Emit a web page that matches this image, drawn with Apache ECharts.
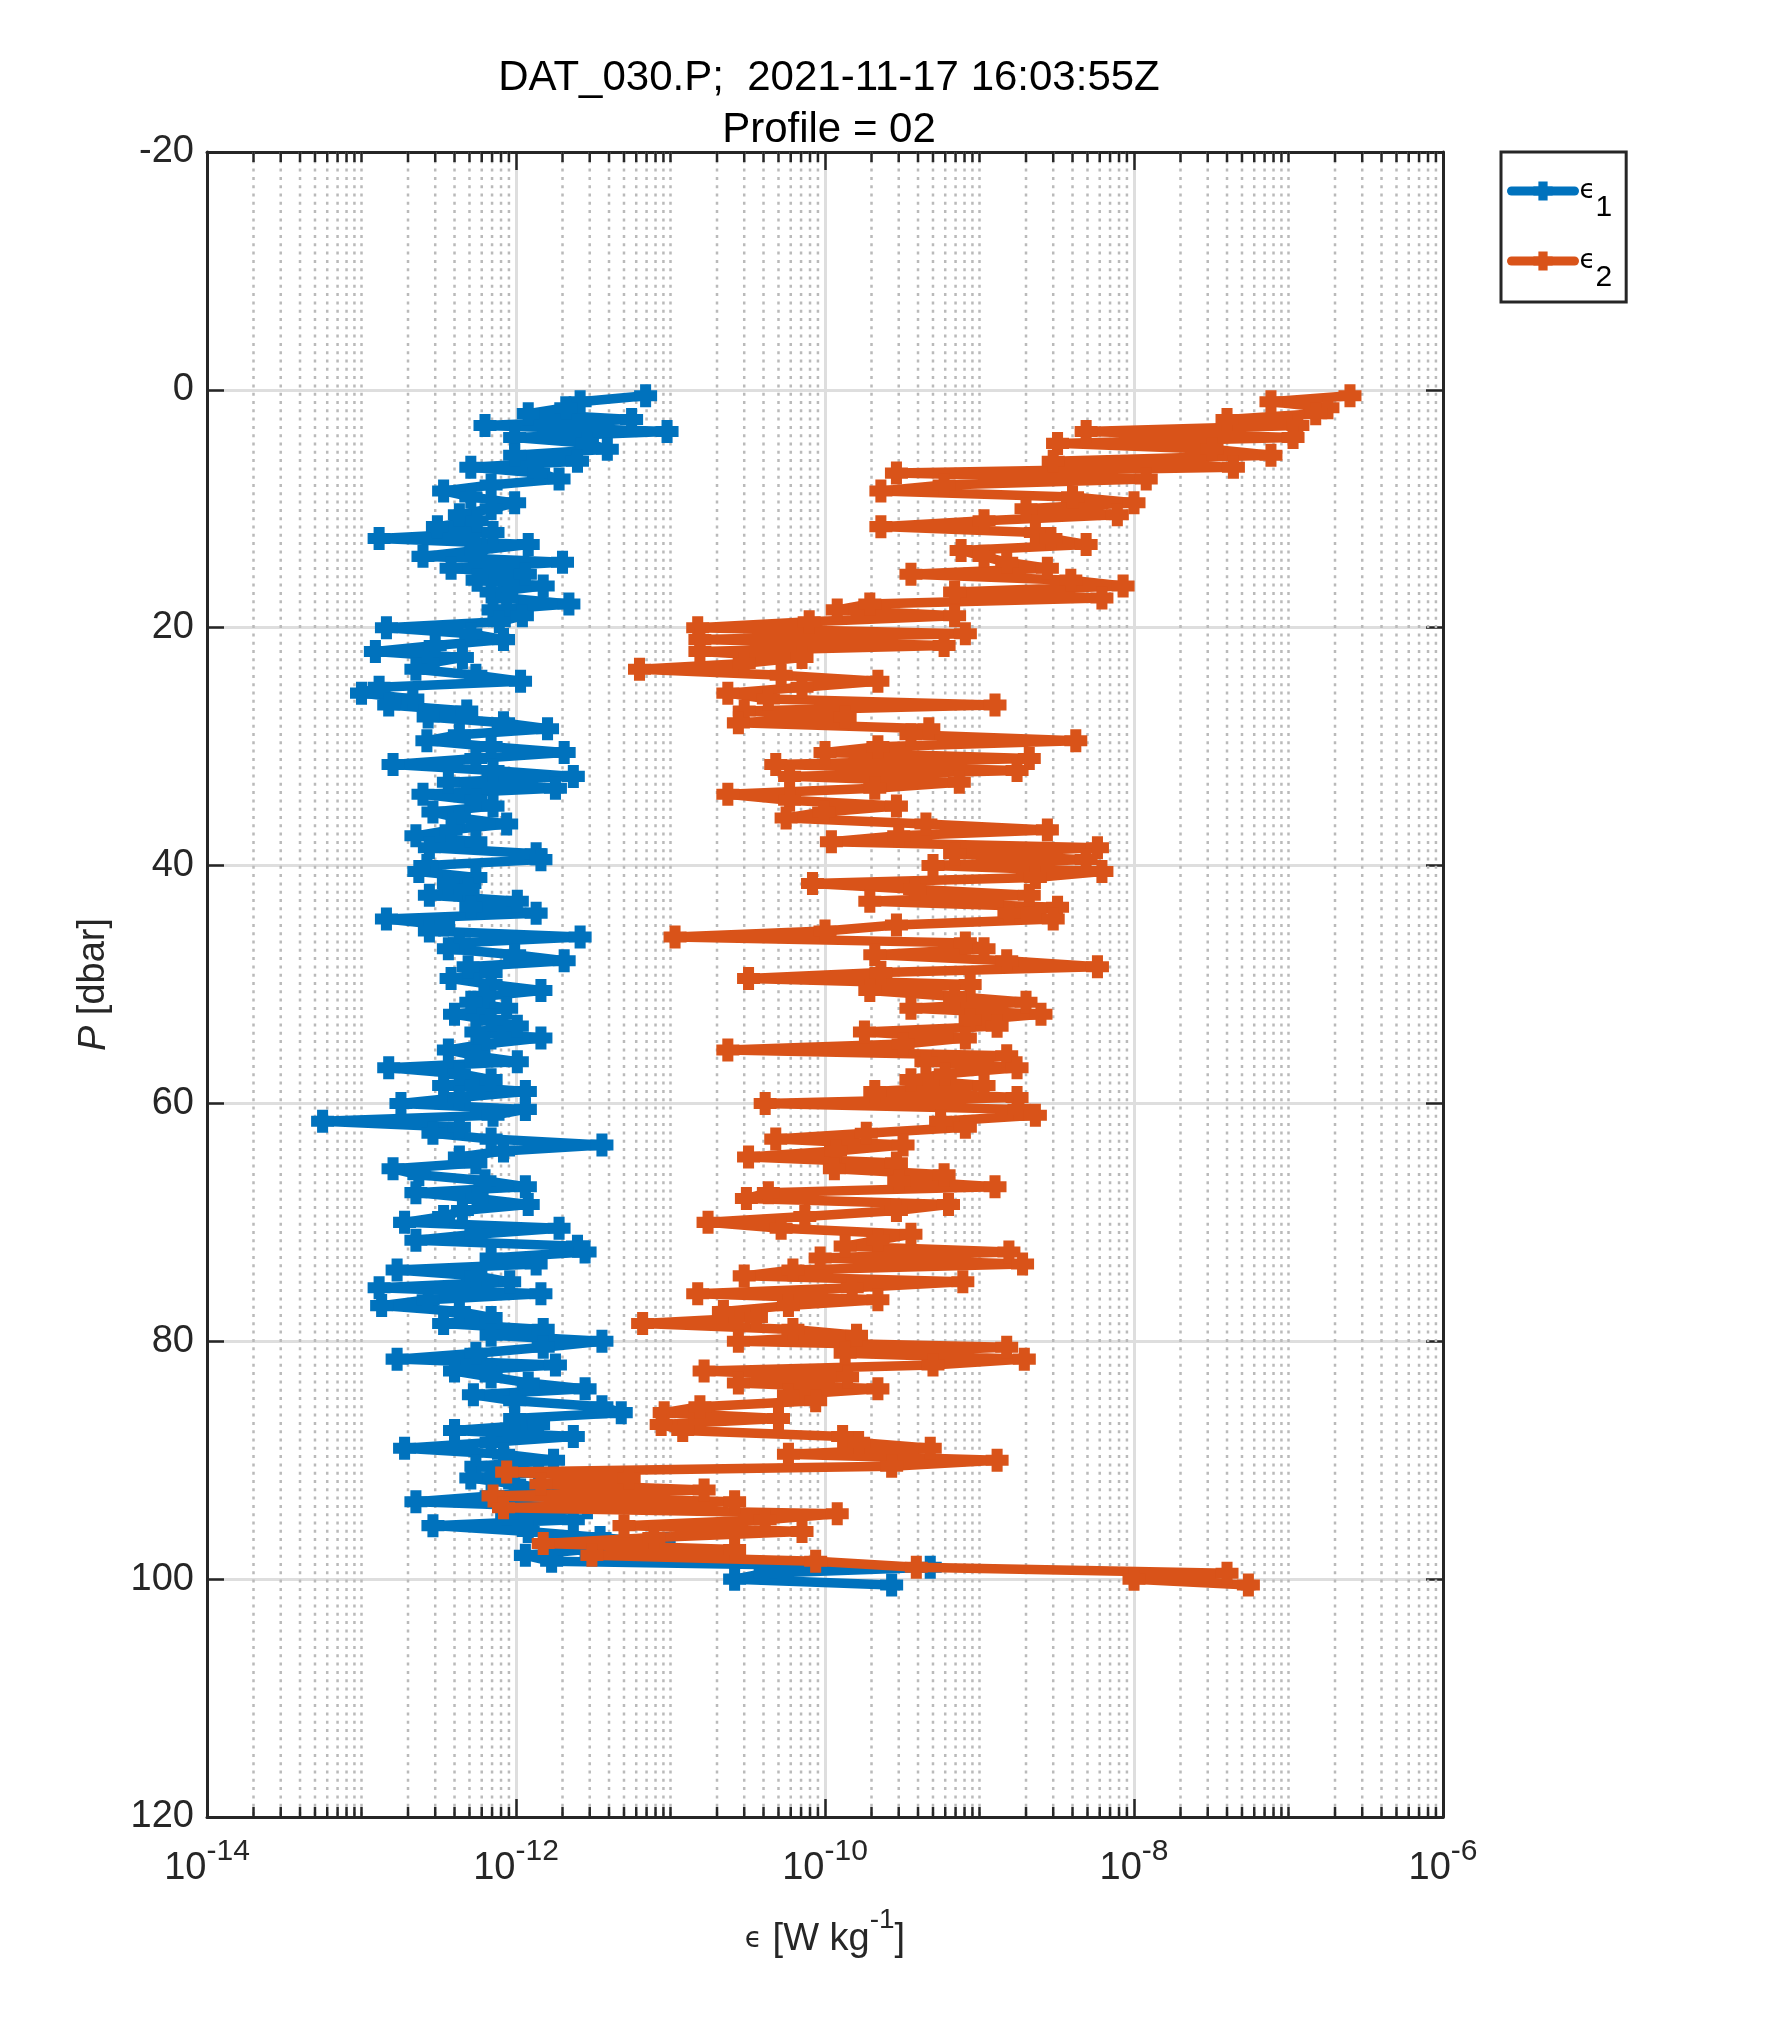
<!DOCTYPE html>
<html><head><meta charset="utf-8">
<script src="https://cdn.jsdelivr.net/npm/echarts@6/dist/echarts.min.js"></script>
<style>html,body{margin:0;padding:0;background:#fff}#c{width:1772px;height:2042px}</style>
</head><body><div id="c"></div>
<script>
// Pressure levels [dbar]
const pressure = [
 0.5,1,1.5,2,2.5,3,3.5,4,4.5,5,
 5.5,6,6.5,7,7.5,8,8.5,9,9.5,10,
 10.5,11,11.5,12,12.5,13,13.5,14,14.5,15,
 15.5,16,16.5,17,17.5,18,18.5,19,19.5,20,
 20.5,21,21.5,22,22.5,23,23.5,24,24.5,25,
 25.5,26,26.5,27,27.5,28,28.5,29,29.5,30,
 30.5,31,31.5,32,32.5,33,33.5,34,34.5,35,
 35.5,36,36.5,37,37.5,38,38.5,39,39.5,40,
 40.5,41,41.5,42,42.5,43,43.5,44,44.5,45,
 45.5,46,46.5,47,47.5,48,48.5,49,49.5,50,
 50.5,51,51.5,52,52.5,53,53.5,54,54.5,55,
 55.5,56,56.5,57,57.5,58,58.5,59,59.5,60,
 60.5,61,61.5,62,62.5,63,63.5,64,64.5,65,
 65.5,66,66.5,67,67.5,68,68.5,69,69.5,70,
 70.5,71,71.5,72,72.5,73,73.5,74,74.5,75,
 75.5,76,76.5,77,77.5,78,78.5,79,79.5,80,
 80.5,81,81.5,82,82.5,83,83.5,84,84.5,85,
 85.5,86,86.5,87,87.5,88,88.5,89,89.5,90,
 90.5,91,91.5,92,92.5,93,93.5,94,94.5,95,
 95.5,96,96.5,97,97.5,98,98.5,99,99.5,100,
 100.5
];
// epsilon 1 [W/kg]
const eps1 = [
 6.9e-12,2.6e-12,2.1e-12,1.2e-12,5.6e-12,6.3e-13,9.5e-12,9.8e-13,2.9e-12,3.9e-12,
 9.8e-13,2.5e-12,5.1e-13,1.4e-12,1.9e-12,6.9e-13,3.4e-13,5.1e-13,9.8e-13,6.9e-13,
 4.3e-13,5.6e-13,3.1e-13,7.1e-13,1.3e-13,1.2e-12,5.5e-13,2.5e-13,2.0e-12,3.8e-13,
 1.15e-12,5.6e-13,1.5e-12,6.9e-13,8.7e-13,2.2e-12,7.1e-13,1.1e-12,7.8e-13,1.45e-13,
 5.1e-13,8.3e-13,3.0e-13,1.23e-13,4.5e-13,2.7e-13,2.25e-13,5.5e-13,1.07e-12,1.3e-13,
 1.0e-13,2.15e-13,1.5e-13,4.8e-13,2.7e-13,8.3e-13,1.6e-12,4.3e-13,2.65e-13,6.9e-13,
 2.05e-12,5.5e-13,1.6e-13,7.1e-13,2.35e-12,3.65e-13,1.8e-12,2.5e-13,5.5e-13,7.1e-13,
 2.9e-13,4.3e-13,8.7e-13,3.8e-13,2.25e-13,5.5e-13,2.75e-13,1.35e-12,1.45e-12,2.65e-13,
 2.35e-13,5.5e-13,3.65e-13,4.9e-13,2.75e-13,1.02e-12,5.1e-13,1.35e-12,1.45e-13,3.4e-13,
 2.75e-13,2.6e-12,4.3e-13,3.65e-13,9.8e-13,2.05e-12,4.9e-13,6.9e-13,3.8e-13,6.9e-13,
 1.45e-12,6.2e-13,5.1e-13,8.7e-13,4.0e-13,6.9e-13,1.02e-12,5.5e-13,1.45e-12,6.3e-13,
 3.65e-13,5.5e-13,1.02e-12,1.5e-13,4.3e-13,6.9e-13,3.4e-13,1.15e-12,4.3e-13,1.8e-13,
 1.15e-12,7.1e-13,5.6e-14,4.3e-13,2.9e-13,6.9e-13,3.6e-12,8.3e-13,4.3e-13,5.5e-13,
 1.6e-13,2.35e-13,6.3e-13,1.15e-12,2.25e-13,5.6e-13,1.2e-12,4.5e-13,3.4e-13,1.9e-13,
 1.9e-12,5.5e-13,2.25e-13,2.5e-12,2.8e-12,6.9e-13,1.35e-12,1.7e-13,5.5e-13,9.1e-13,
 1.3e-13,1.45e-12,2.7e-13,1.35e-13,4.3e-13,6.9e-13,3.4e-13,1.5e-12,6.9e-13,3.6e-12,
 1.5e-12,5.5e-13,1.7e-13,1.8e-12,4.0e-13,6.9e-13,1.2e-12,2.8e-12,5.3e-13,9.8e-13,
 3.6e-12,4.8e-12,9.8e-13,1.4e-12,4.0e-13,2.35e-12,6.9e-13,1.9e-13,8.3e-13,1.75e-12,
 5.5e-13,1.4e-12,5.1e-13,9.8e-13,1.8e-12,6.9e-13,2.25e-13,2.9e-12,8.7e-13,2.35e-12,
 2.9e-13,1.2e-12,3.5e-12,9.1e-12,2.8e-12,1.15e-12,1.7e-12,4.8e-10,4.1e-11,2.6e-11,
 2.7e-10
];
// epsilon 2 [W/kg]
const eps2 = [
 2.5e-7,7.7e-8,1.8e-7,1.5e-7,4.0e-8,1.15e-7,4.9e-9,1.07e-7,3.2e-9,3.2e-8,
 7.7e-8,3.0e-9,4.4e-8,2.9e-10,1.2e-8,5.9e-10,2.3e-10,4.0e-9,1.0e-8,2.0e-9,
 7.8e-9,1.07e-9,2.3e-10,2.3e-9,2.9e-9,4.9e-9,7.6e-10,1.07e-9,1.5e-9,2.75e-9,
 3.6e-10,3.9e-9,8.5e-9,6.9e-10,6.2e-9,1.95e-10,1.2e-10,6.9e-10,7.9e-11,1.5e-11,
 8.1e-10,1.55e-11,5.9e-10,1.55e-11,7.1e-11,3.0e-11,6.3e-12,5.2e-11,2.2e-10,7.1e-11,
 2.35e-11,4.3e-11,1.26e-9,3.0e-11,1.35e-10,2.75e-11,4.7e-10,3.6e-10,4.2e-9,2.2e-10,
 1.0e-10,2.1e-9,4.8e-11,1.75e-9,5.9e-11,7.4e-10,2.1e-10,2.35e-11,5.9e-11,2.9e-10,
 9.8e-11,5.6e-11,4.5e-10,2.75e-9,3.0e-10,1.1e-10,5.8e-9,6.9e-10,4.9e-9,5.0e-10,
 6.2e-9,2.3e-9,8.3e-11,3.8e-10,2.1e-9,1.95e-10,3.2e-9,1.55e-9,3.0e-9,2.9e-10,
 1.0e-10,1.07e-11,8.1e-10,1.07e-9,2.1e-10,1.5e-9,5.8e-9,2.3e-10,3.2e-11,8.7e-10,
 1.95e-10,6.9e-10,2.0e-9,3.6e-10,2.5e-9,8.7e-10,1.3e-9,1.8e-10,8.1e-10,3.2e-10,
 2.35e-11,1.5e-9,4.5e-10,1.75e-9,6.0e-10,3.6e-10,1.07e-9,2.1e-10,1.75e-9,4.1e-11,
 1.8e-9,2.3e-9,5.6e-10,8.1e-10,1.85e-10,4.8e-11,3.2e-10,1.17e-10,3.2e-11,2.9e-10,
 1.15e-10,5.9e-10,3.0e-10,1.26e-9,4.3e-11,3.1e-11,6.3e-10,2.9e-10,7.4e-11,1.75e-11,
 5.2e-11,3.6e-10,2.2e-10,1.35e-10,1.55e-9,9.3e-11,1.9e-9,6.2e-11,3.0e-11,7.8e-10,
 1.5e-10,1.5e-11,2.2e-10,5.8e-11,2.2e-11,3.6e-11,6.6e-12,6.2e-11,1.6e-10,2.75e-11,
 1.5e-9,1.35e-10,1.95e-9,5.0e-10,1.65e-11,1.4e-10,2.75e-11,2.2e-10,5.8e-11,8.7e-11,
 1.55e-11,9.1e-12,5.0e-11,8.7e-12,1.2e-11,1.3e-10,1.65e-10,4.8e-10,5.8e-11,1.3e-9,
 2.7e-10,8.7e-13,5.4e-12,1.45e-12,1.65e-11,7.1e-13,2.6e-11,8.3e-13,1.2e-10,4.1e-11,
 5.0e-12,7.1e-11,7.8e-12,1.5e-12,2.6e-11,3.1e-12,8.7e-11,3.9e-10,4.0e-8,1.0e-8,
 5.5e-8
];
// Axis ticks
const xMajorExponents = [-14, -12, -10, -8, -6];
const yTickValues = [-20, 0, 20, 40, 60, 80, 100, 120];
const minorMultipliers = [1, 2, 3, 4, 5, 6, 7, 8, 9];

const FONT = '"Liberation Sans", Arial, Helvetica, sans-serif';
const AX = '#262626';
const BLUE = '#0072BD', ORANGE = '#D95319';
const PLUS = 'path://M2.6,0H7.4V2.6H10V7.4H7.4V10H2.6V7.4H0V2.6H2.6Z';

// minor log grid positions (k * 10^d), excluding labelled majors
const minorVals = [];
for (let d = xMajorExponents[0]; d < xMajorExponents[xMajorExponents.length - 1]; d++) {
  minorMultipliers.forEach(k => {
    if (k === 1 && xMajorExponents.indexOf(d) >= 0) return;
    minorVals.push(k * Math.pow(10, d));
  });
}

const chart = echarts.init(document.getElementById('c'), null, {renderer: 'canvas', width: 1772, height: 2042});

const xLabelRich = {
  b: {fontFamily: FONT, fontSize: 38, color: AX, lineHeight: 40},
  s: {fontFamily: FONT, fontSize: 30, color: AX, lineHeight: 30, padding: [0, 0, 34, 0]}
};
function xLabelFmt(v) {
  const e = Math.round(Math.log10(v));
  return '{b|10}{s|' + e + '}';
}

const option = {
  backgroundColor: '#ffffff',
  animation: false,
  title: {
    text: 'DAT_030.P;  2021-11-17 16:03:55Z\nProfile = 02',
    left: 824, top: 47, textAlign: 'center',
    textStyle: {fontFamily: FONT, fontSize: 42, fontWeight: 'normal', color: '#000', lineHeight: 52}
  },
  grid: {left: 207, top: 152, width: 1236, height: 1665, containLabel: false},
  legend: {
    orient: 'vertical', left: 1501, top: 152,
    padding: [7, 14, 9, 6], itemGap: 6, itemWidth: 63, itemHeight: 24,
    backgroundColor: '#fff', borderColor: AX, borderWidth: 3, borderRadius: 0,
    selectedMode: false,
    lineStyle: {width: 9},
    data: ['eps1', 'eps2'],
    formatter: name => name === 'eps1' ? '{e|\u03f5}{n|1}' : '{e|\u03f5}{n|2}',
    textStyle: {
      rich: {
        e: {fontFamily: '"DejaVu Sans", sans-serif', fontSize: 26, lineHeight: 26, color: '#000'},
        n: {fontFamily: FONT, fontSize: 30, lineHeight: 30, padding: [34, 0, 0, 0], color: '#000'}
      }
    }
  },
  xAxis: [{
    type: 'log', logBase: 10, min: 1e-14, max: 1e-6, interval: 2, position: 'bottom',
    axisLine: {show: true, onZero: false, lineStyle: {color: AX, width: 3}},
    axisTick: {show: true, inside: true, length: 18, lineStyle: {color: AX, width: 2.5}},
    axisLabel: {margin: 32, formatter: xLabelFmt, rich: xLabelRich},
    splitLine: {show: true, lineStyle: {color: '#dedede', width: 3}},
    minorTick: {show: false}, minorSplitLine: {show: false},
    name: '{e|\u03f5} [W kg{s|-1}]', nameLocation: 'middle', nameGap: 91,
    nameTextStyle: {
      fontFamily: FONT, fontSize: 38, color: AX,
      rich: {
        e: {fontFamily: '"DejaVu Sans", sans-serif', fontSize: 28, color: AX},
        s: {fontFamily: FONT, fontSize: 28, lineHeight: 28, color: AX, padding: [0, 0, 40, 0]}
      }
    }
  }, {
    type: 'log', logBase: 10, min: 1e-14, max: 1e-6, interval: 2, position: 'top',
    axisLine: {show: true, onZero: false, lineStyle: {color: AX, width: 3}},
    axisTick: {show: true, inside: true, length: 18, lineStyle: {color: AX, width: 2.5}},
    axisLabel: {show: false}, splitLine: {show: false}
  }],
  yAxis: [{
    type: 'value', inverse: true, min: yTickValues[0], max: yTickValues[yTickValues.length - 1], interval: 20,
    axisLine: {show: true, onZero: false, lineStyle: {color: AX, width: 3}},
    axisTick: {show: true, inside: true, length: 17, lineStyle: {color: AX, width: 2.5}},
    axisLabel: {margin: 13, fontFamily: FONT, fontSize: 38, color: AX},
    splitLine: {show: true, lineStyle: {color: '#dedede', width: 3}},
    name: '{i|P} [dbar]', nameLocation: 'middle', nameGap: 94, nameRotate: 90,
    nameTextStyle: {
      fontFamily: FONT, fontSize: 38, color: AX,
      rich: {i: {fontFamily: FONT, fontSize: 38, fontStyle: 'italic', color: AX}}
    }
  }, {
    type: 'value', inverse: true, min: yTickValues[0], max: yTickValues[yTickValues.length - 1], interval: 20, position: 'right',
    axisLine: {show: true, onZero: false, lineStyle: {color: AX, width: 3}},
    axisTick: {show: true, inside: true, length: 17, lineStyle: {color: AX, width: 2.5}},
    axisLabel: {show: false}, splitLine: {show: false}
  }],
  series: [{
    type: 'custom', name: 'minor', silent: true, z: 1, clip: false,
    xAxisIndex: 0, yAxisIndex: 0,
    data: minorVals.map(v => [v, 0]),
    encode: {x: 0, y: 1},
    renderItem: (params, api) => {
      const cs = params.coordSys;
      const x = api.coord([api.value(0), 0])[0];
      const top = cs.y, bot = cs.y + cs.height;
      return {type: 'group', children: [
        {type: 'line', shape: {x1: x, y1: top, x2: x, y2: bot}, style: {stroke: '#bababa', lineWidth: 2.5, lineDash: [3, 5.3]}},
        {type: 'line', shape: {x1: x, y1: bot, x2: x, y2: bot - 10}, style: {stroke: AX, lineWidth: 2.5}},
        {type: 'line', shape: {x1: x, y1: top, x2: x, y2: top + 10}, style: {stroke: AX, lineWidth: 2.5}}
      ]};
    }
  }, {
    type: 'line', name: 'eps1', xAxisIndex: 0, yAxisIndex: 0, z: 3,
    data: pressure.map((p, i) => [eps1[i], p]),
    symbol: PLUS, symbolSize: 23, showSymbol: true,
    lineStyle: {color: BLUE, width: 9.5, cap: 'round', join: 'round'},
    itemStyle: {color: BLUE},
    emphasis: {disabled: true}
  }, {
    type: 'line', name: 'eps2', xAxisIndex: 0, yAxisIndex: 0, z: 4,
    data: pressure.map((p, i) => [eps2[i], p]),
    symbol: PLUS, symbolSize: 23, showSymbol: true,
    lineStyle: {color: ORANGE, width: 9.5, cap: 'round', join: 'round'},
    itemStyle: {color: ORANGE},
    emphasis: {disabled: true}
  }]
};
chart.setOption(option);
</script>
</body></html>
